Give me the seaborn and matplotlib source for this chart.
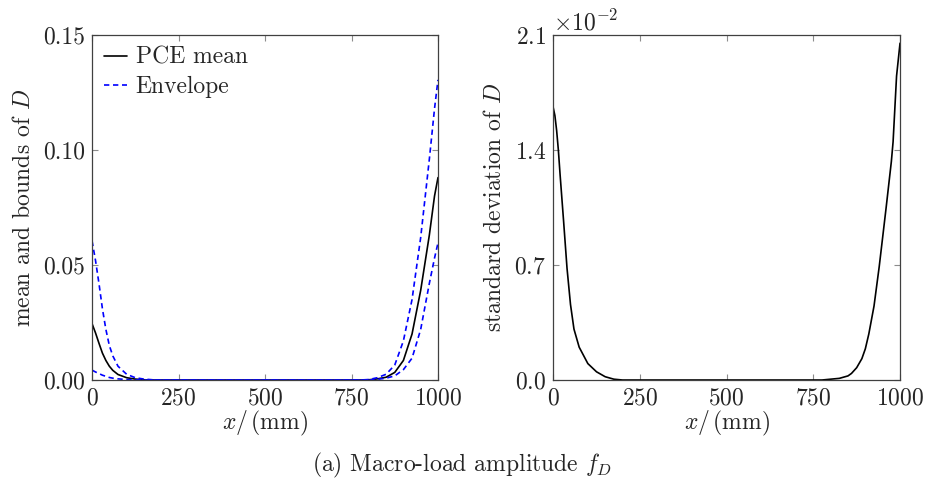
import numpy as np
import pandas as pd
import matplotlib
matplotlib.use("Agg")
import matplotlib.pyplot as plt
import seaborn as sns
from matplotlib.ticker import ScalarFormatter

# positions along the beam (mm)
x_left = [0, 10, 20, 30, 40, 50, 60, 75, 100, 125, 150, 175, 200, 300, 400, 500,
          600, 700, 775, 800, 825, 850, 875, 900, 925, 950, 975, 990, 1000]

# PCE mean and envelope bounds of D
mean_D = [0.0245, 0.0205, 0.0160, 0.0117, 0.0085, 0.0060, 0.0042, 0.0024, 0.0010,
          0.0004, 0.0001, 0.0, 0.0, 0.0, 0.0, 0.0, 0.0, 0.0, 0.0, 0.0001, 0.0005,
          0.0012, 0.0033, 0.0085, 0.0200, 0.0390, 0.0630, 0.0800, 0.0880]
upper_D = [0.0605, 0.0520, 0.0420, 0.0310, 0.0220, 0.0150, 0.0105, 0.0060, 0.0025,
           0.0010, 0.0004, 0.0001, 0.0, 0.0, 0.0, 0.0, 0.0, 0.0, 0.0, 0.0002, 0.0010,
           0.0025, 0.0065, 0.0170, 0.0350, 0.0620, 0.0960, 0.1180, 0.1305]
lower_D = [0.0043, 0.0035, 0.0028, 0.0021, 0.0016, 0.0011, 0.0008, 0.0005, 0.0002,
           0.0001, 0.0, 0.0, 0.0, 0.0, 0.0, 0.0, 0.0, 0.0, 0.0, 0.0, 0.0003,
           0.0008, 0.0018, 0.0045, 0.0095, 0.0220, 0.0420, 0.0530, 0.0596]

# standard deviation of D
x_right = [0, 5, 10, 15, 20, 30, 40, 50, 60, 75, 100, 125, 150, 175, 200, 300, 400,
           500, 600, 700, 775, 800, 825, 850, 860, 875, 890, 900, 910, 925, 940,
           950, 960, 975, 980, 990, 1000]
std_D = [0.0166, 0.0161, 0.0152, 0.0140, 0.0125, 0.0097, 0.0068, 0.0046, 0.0031,
         0.0020, 0.0010, 0.0005, 0.0002, 0.00005, 0.0, 0.0, 0.0, 0.0, 0.0, 0.0, 0.0,
         0.00005, 0.0001, 0.00025, 0.0004, 0.00075, 0.0013, 0.0019, 0.0028, 0.0045,
         0.0069, 0.0087, 0.0105, 0.0133, 0.0145, 0.0185, 0.0205]

sns.set_style("ticks")
plt.rcParams["font.family"] = "serif"
plt.rcParams["font.serif"] = ["cmr10", "DejaVu Serif"]
plt.rcParams["mathtext.fontset"] = "cm"
plt.rcParams["axes.formatter.use_mathtext"] = True
plt.rcParams["axes.unicode_minus"] = False
plt.rcParams["font.size"] = 17

fig = plt.figure(figsize=(9.25, 4.95), dpi=100)
ax1 = fig.add_axes([0.0995, 0.2323, 0.374, 0.697])
ax2 = fig.add_axes([0.598, 0.2323, 0.375, 0.697])

dash = (0, (3.2, 2.2))
sns.lineplot(x=x_left, y=mean_D, ax=ax1, color="black", lw=1.2, label="PCE mean")
sns.lineplot(x=x_left, y=upper_D, ax=ax1, color="blue", lw=1.2, linestyle=dash, label="Envelope")
sns.lineplot(x=x_left, y=lower_D, ax=ax1, color="blue", lw=1.2, linestyle=dash, label="_nolegend_")
sns.lineplot(x=x_right, y=std_D, ax=ax2, color="black", lw=1.2)

ax1.legend(loc="upper left", frameon=False, handlelength=1.0, handletextpad=0.35,
           borderaxespad=0.2, labelspacing=0.3, borderpad=0.3)

ax1.set_xlim(0, 1000)
ax1.set_ylim(0, 0.15)
ax1.set_yticks([0.0, 0.05, 0.10, 0.15])
ax1.set_yticklabels(["0.00", "0.05", "0.10", "0.15"])
ax1.set_ylabel(r"mean and bounds of $D$", labelpad=6)

ax2.set_xlim(0, 1000)
ax2.set_ylim(0, 0.021)
ax2.set_yticks([0.0, 0.007, 0.014, 0.021])
fmt = ScalarFormatter(useMathText=True)
fmt.set_powerlimits((-1, 1))
ax2.yaxis.set_major_formatter(fmt)
ax2.set_ylabel(r"standard deviation of $D$", labelpad=6)

for ax in (ax1, ax2):
    ax.set_xticks([0, 250, 500, 750, 1000])
    ax.set_xlabel(r"$x/\,$(mm)", labelpad=0)
    ax.tick_params(direction="in", top=True, right=True, length=4, width=0.8,
                   color="0.55", pad=5)
    for s in ax.spines.values():
        s.set_color("0.25")
        s.set_linewidth(0.9)

fig.text(0.5, 0.06, r"(a) Macro-load amplitude $f_D$", ha="center", va="center")

fig.savefig("out.png", dpi=100)
